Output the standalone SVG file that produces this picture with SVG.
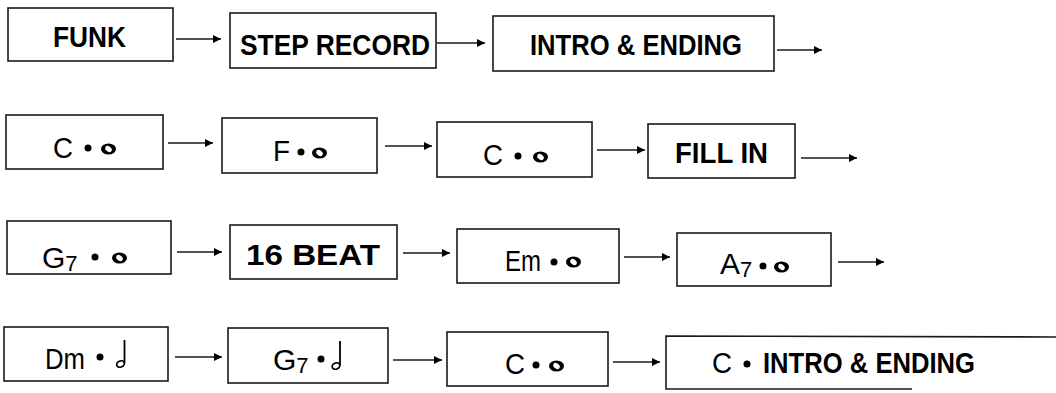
<svg xmlns="http://www.w3.org/2000/svg" width="1056" height="393" viewBox="0 0 1056 393">
<defs>
<style>
.box{fill:none;stroke:#1a1a1a;stroke-width:1.6}
.b{font-family:"Liberation Sans",Arial,sans-serif;font-weight:bold;font-size:29px;fill:#000}
.r{font-family:"Liberation Sans",Arial,sans-serif;font-size:30px;fill:#000}
.sub{font-size:22px}
.conn line{stroke:#1a1a1a;stroke-width:1.6;marker-end:url(#ah)}
.dot{fill:#000}
.wn{fill:#000;fill-rule:evenodd}
.hn{fill:none;stroke:#000;stroke-width:1.8}
</style>
<marker id="ah" viewBox="0 0 10 10" refX="10" refY="5" markerWidth="5" markerHeight="5" orient="auto" markerUnits="strokeWidth">
<path d="M0,0 L10,5 L0,10 z" fill="#000"/>
</marker>
</defs>
<rect width="1056" height="393" fill="#fff"/>

<!-- Row 1 -->
<g id="n-funk"><rect class="box" x="8" y="8" width="165" height="53"/><text class="b" x="53" y="47" textLength="73" lengthAdjust="spacingAndGlyphs">FUNK</text></g>
<g id="n-step"><rect class="box" x="230" y="13" width="206" height="55"/><text class="b" x="240" y="55" textLength="190" lengthAdjust="spacingAndGlyphs">STEP RECORD</text></g>
<g id="n-intro1"><rect class="box" x="493" y="16" width="281" height="55"/><text class="b" x="530" y="55" textLength="212" lengthAdjust="spacingAndGlyphs">INTRO &amp; ENDING</text></g>

<!-- Row 2 -->
<g id="n-c1"><rect class="box" x="6" y="115" width="157" height="54"/><text class="r" x="53" y="158" textLength="20" lengthAdjust="spacingAndGlyphs">C</text><circle class="dot" cx="88" cy="148" r="3.5"/><path class="wn" d="M101,149 a7.5,5.5 0 1,0 15,0 a7.5,5.5 0 1,0 -15,0 z M105.5,147 a3,2.2 40 1,0 6,4 a3,2.2 40 1,0 -6,-4 z"/></g>
<g id="n-f"><rect class="box" x="222" y="118" width="155" height="55"/><text class="r" x="273" y="161" textLength="17" lengthAdjust="spacingAndGlyphs">F</text><circle class="dot" cx="301" cy="152" r="3.5"/><path class="wn" d="M312,153 a7.5,5.5 0 1,0 15,0 a7.5,5.5 0 1,0 -15,0 z M316.5,151 a3,2.2 40 1,0 6,4 a3,2.2 40 1,0 -6,-4 z"/></g>
<g id="n-c2"><rect class="box" x="437" y="122" width="155" height="55"/><text class="r" x="483" y="165" textLength="20" lengthAdjust="spacingAndGlyphs">C</text><circle class="dot" cx="518" cy="156" r="3.5"/><path class="wn" d="M533,157 a7.5,5.5 0 1,0 15,0 a7.5,5.5 0 1,0 -15,0 z M537.5,155 a3,2.2 40 1,0 6,4 a3,2.2 40 1,0 -6,-4 z"/></g>
<g id="n-fill"><rect class="box" x="648" y="124" width="147" height="54"/><text class="b" x="675" y="163" textLength="93" lengthAdjust="spacingAndGlyphs">FILL IN</text></g>

<!-- Row 3 -->
<g id="n-g7a"><rect class="box" x="7" y="221" width="164" height="53"/><text class="r" x="42" y="268">G<tspan class="sub" dy="3">7</tspan></text><circle class="dot" cx="95" cy="257" r="3.5"/><path class="wn" d="M112,258 a7.5,5.5 0 1,0 15,0 a7.5,5.5 0 1,0 -15,0 z M116.5,256 a3,2.2 40 1,0 6,4 a3,2.2 40 1,0 -6,-4 z"/></g>
<g id="n-16beat"><rect class="box" x="230" y="225" width="167" height="54"/><text class="b" x="246" y="265" textLength="134" lengthAdjust="spacingAndGlyphs">16 BEAT</text></g>
<g id="n-em"><rect class="box" x="457" y="229" width="162" height="54"/><text class="r" x="505" y="271" textLength="36" lengthAdjust="spacingAndGlyphs">Em</text><circle class="dot" cx="554" cy="262" r="3.5"/><path class="wn" d="M566,262 a7.5,5.5 0 1,0 15,0 a7.5,5.5 0 1,0 -15,0 z M570.5,260 a3,2.2 40 1,0 6,4 a3,2.2 40 1,0 -6,-4 z"/></g>
<g id="n-a7"><rect class="box" x="677" y="233" width="154" height="53"/><text class="r" x="720" y="274">A<tspan class="sub" dy="3">7</tspan></text><circle class="dot" cx="763" cy="266" r="3.5"/><path class="wn" d="M774,267 a7.5,5.5 0 1,0 15,0 a7.5,5.5 0 1,0 -15,0 z M778.5,265 a3,2.2 40 1,0 6,4 a3,2.2 40 1,0 -6,-4 z"/></g>

<!-- Row 4 -->
<g id="n-dm"><rect class="box" x="4" y="327" width="164" height="54"/><text class="r" x="45" y="369" textLength="40" lengthAdjust="spacingAndGlyphs">Dm</text><circle class="dot" cx="100" cy="357" r="3.5"/><ellipse class="hn" cx="120.5" cy="364" rx="4" ry="3" transform="rotate(-25 120.5 364)"/><line class="hn" x1="124.5" y1="340" x2="124.5" y2="363"/></g>
<g id="n-g7b"><rect class="box" x="228" y="328" width="160" height="55"/><text class="r" x="273" y="370">G<tspan class="sub" dy="3">7</tspan></text><circle class="dot" cx="321" cy="359" r="3.5"/><ellipse class="hn" cx="336" cy="366" rx="4" ry="3" transform="rotate(-25 336 366)"/><line class="hn" x1="340" y1="341" x2="340" y2="365"/></g>
<g id="n-c3"><rect class="box" x="447" y="332" width="161" height="54"/><text class="r" x="505" y="374" textLength="20" lengthAdjust="spacingAndGlyphs">C</text><circle class="dot" cx="536" cy="365" r="3.5"/><path class="wn" d="M549,366 a7.5,5.5 0 1,0 15,0 a7.5,5.5 0 1,0 -15,0 z M553.5,364 a3,2.2 40 1,0 6,4 a3,2.2 40 1,0 -6,-4 z"/></g>
<g id="n-cintro"><path class="box" d="M1056,337 L666,336 L666,389 L912,389"/><text class="r" x="712" y="373" textLength="20" lengthAdjust="spacingAndGlyphs">C</text><circle class="dot" cx="747" cy="364" r="3.5"/><text class="b" x="763" y="373" textLength="212" lengthAdjust="spacingAndGlyphs">INTRO &amp; ENDING</text></g>

<!-- Connectors -->
<g id="connectors" class="conn">
<line x1="176" y1="39" x2="221" y2="39"/>
<line x1="437" y1="43" x2="485" y2="43"/>
<line x1="777" y1="50" x2="822" y2="50"/>
<line x1="168" y1="143" x2="213" y2="143"/>
<line x1="385" y1="146" x2="432" y2="146"/>
<line x1="597" y1="150" x2="645" y2="150"/>
<line x1="801" y1="158" x2="857" y2="158"/>
<line x1="177" y1="252" x2="222" y2="252"/>
<line x1="403" y1="253" x2="450" y2="253"/>
<line x1="624" y1="257" x2="670" y2="257"/>
<line x1="838" y1="262" x2="884" y2="262"/>
<line x1="175" y1="357" x2="222" y2="357"/>
<line x1="393" y1="360" x2="442" y2="360"/>
<line x1="613" y1="362" x2="660" y2="362"/>
</g>
</svg>
